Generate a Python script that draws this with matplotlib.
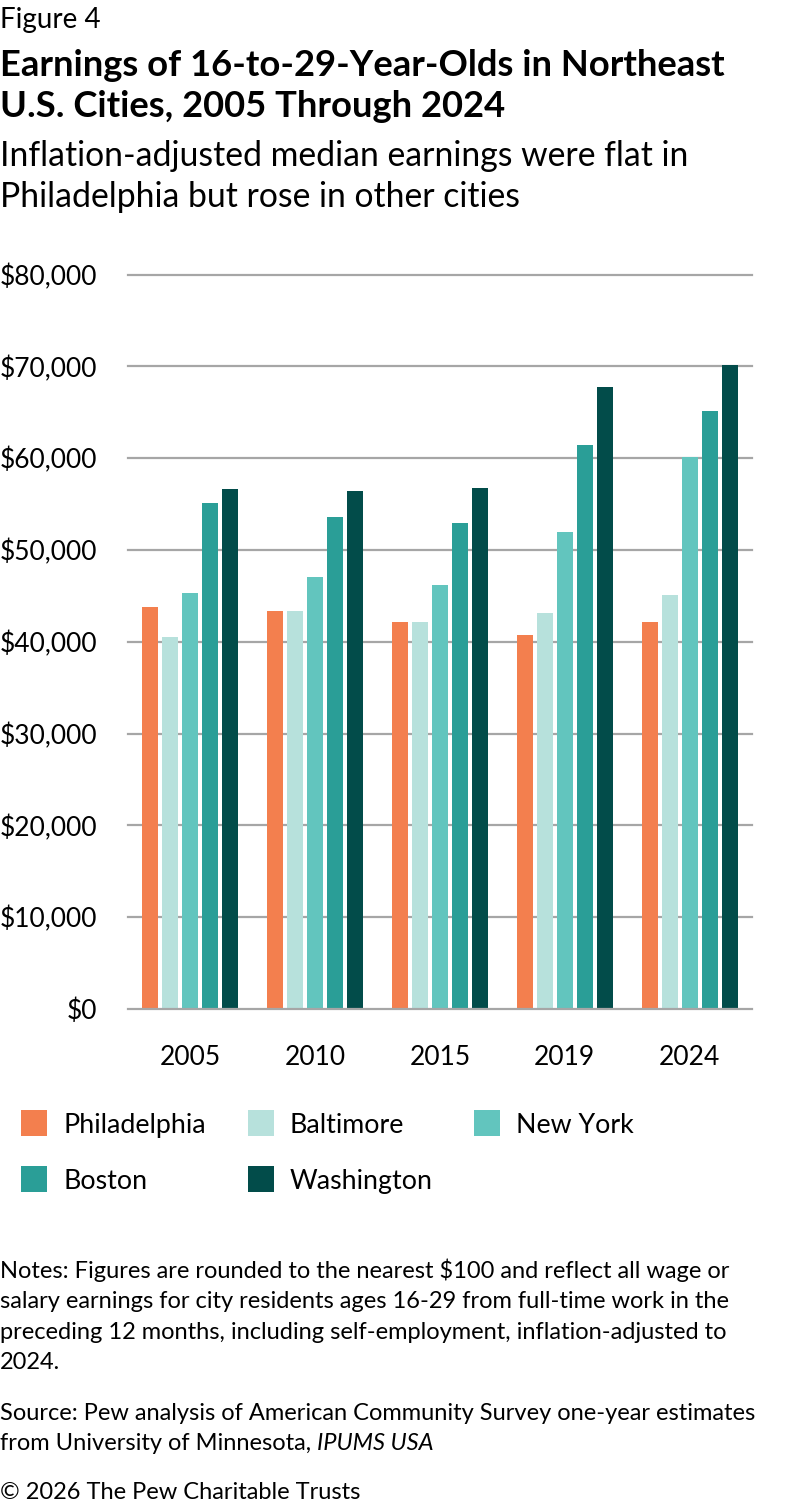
import matplotlib
matplotlib.use("Agg")
import matplotlib.pyplot as plt
from matplotlib.patches import Rectangle
import numpy as np

plt.rcParams['font.family'] = ['Lato', 'DejaVu Sans']

years = ["2005", "2010", "2015", "2019", "2024"]
cities = ["Philadelphia", "Baltimore", "New York", "Boston", "Washington"]
philadelphia = [43800, 43300, 42200, 40700, 42200]
baltimore = [40500, 43300, 42200, 43100, 45100]
new_york = [45300, 47000, 46200, 52000, 60100]
boston = [55100, 53600, 52900, 61400, 65100]
washington = [56600, 56400, 56800, 67700, 70100]
yticks = [0, 10000, 20000, 30000, 40000, 50000, 60000, 70000, 80000]
ytick_labels = ["$0", "$10,000", "$20,000", "$30,000", "$40,000",
                "$50,000", "$60,000", "$70,000", "$80,000"]

series = [philadelphia, baltimore, new_york, boston, washington]
colors = ["#F37F4E", "#B7E1DC", "#62C5BE", "#2A9E97", "#024C4A"]

W, H = 792, 1506
fig = plt.figure(figsize=(W / 100, H / 100), dpi=100)
fig.patch.set_facecolor("white")

def fx(x):
    return x / W

def fy(y):
    return 1 - y / H

# axes
ax_l, ax_r, ax_t, ax_b = 128, 752, 274.5, 1009
ax = fig.add_axes([fx(ax_l), fy(ax_b), (ax_r - ax_l) / W, (ax_b - ax_t) / H])
x = np.arange(len(years))
pitch = 0.16
width = 0.128
for i, (vals, c) in enumerate(zip(series, colors)):
    ax.bar(x + (i - 2) * pitch, vals, width=width, color=c, zorder=2, linewidth=0)

ax.set_xlim(-0.5, len(years) - 0.5)
ax.set_ylim(0, 80000)
ax.set_yticks(yticks)
ax.set_yticklabels(ytick_labels)
ax.set_xticks(x)
ax.set_xticklabels(years)
for yv in yticks:
    ax.axhline(yv, color="#A6A6A6", linewidth=1.6, zorder=1 if yv else 3, clip_on=False)
for s in ax.spines.values():
    s.set_visible(False)
ax.tick_params(axis="both", length=0, labelsize=19, colors="#000000")
ax.tick_params(axis="y", pad=22)
ax.tick_params(axis="x", pad=26)
ax.set_facecolor("white")

# titles
fig.text(fx(0), fy(28), "Figure 4", fontsize=20, va="baseline", ha="left")
fig.text(fx(0), fy(76), "Earnings of 16-to-29-Year-Olds in Northeast",
         fontsize=26.2, fontweight="bold", va="baseline", ha="left")
fig.text(fx(0), fy(117), "U.S. Cities, 2005 Through 2024",
         fontsize=26.2, fontweight="bold", va="baseline", ha="left")
fig.text(fx(0), fy(166), "Inflation-adjusted median earnings were flat in",
         fontsize=24.3, va="baseline", ha="left")
fig.text(fx(0), fy(207), "Philadelphia but rose in other cities",
         fontsize=24.3, va="baseline", ha="left")

# legend
leg_cols = [21, 248, 474]
leg_rows = [1110, 1166]
sq = 26
for i, (name, c) in enumerate(zip(cities, colors)):
    r, col = divmod(i, 3)
    lx, ly = leg_cols[col], leg_rows[r]
    fig.patches.append(Rectangle((fx(lx), fy(ly + sq)), sq / W, sq / H,
                                 transform=fig.transFigure, color=c, linewidth=0))
    fig.text(fx(lx + 42), fy(ly + sq / 2), name, fontsize=19.3, va="center_baseline", ha="left")

# notes
fs_note = 17
note_lines = [
    ("Notes: Figures are rounded to the nearest $100 and reflect all wage or", 1278),
    ("salary earnings for city residents ages 16-29 from full-time work in the", 1308),
    ("preceding 12 months, including self-employment, inflation-adjusted to", 1339),
    ("2024.", 1369),
    ("Source: Pew analysis of American Community Survey one-year estimates", 1420),
]
for txt, yb in note_lines:
    fig.text(fx(0), fy(yb), txt, fontsize=fs_note, va="baseline", ha="left")
t_from = fig.text(fx(0), fy(1450), "from University of Minnesota, ", fontsize=fs_note,
                  va="baseline", ha="left")
renderer = fig.canvas.get_renderer()
bb = t_from.get_window_extent(renderer=renderer)
fig.text(bb.x1 / W, fy(1450), "IPUMS USA", fontsize=fs_note, va="baseline", ha="left",
         style="italic")
fig.text(fx(0), fy(1499), "\u00a9 2026 The Pew Charitable Trusts", fontsize=fs_note,
         va="baseline", ha="left")

fig.savefig("out.png", dpi=100, facecolor="white")
